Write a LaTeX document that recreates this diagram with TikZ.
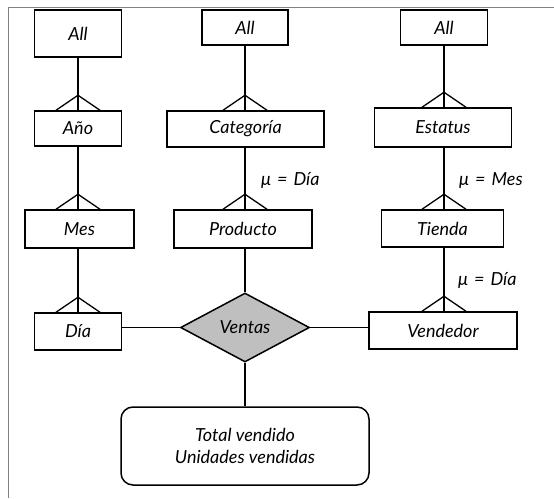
\documentclass[tikz,border=0pt]{standalone}
\usepackage{fontspec}
\setmainfont{Lato}
\usetikzlibrary{shapes.geometric,calc}
\begin{document}
\begin{tikzpicture}[x=1pt,y=-1pt,
  txt/.style={font=\itshape\fontsize{18}{22}\selectfont},
  ent/.style={txt, draw, line width=1.5pt, inner sep=0pt, fill=white},
  conn/.style={line width=1.3pt},
  lbl/.style={txt, anchor=west, inner sep=0pt},
  frame/.style={draw=gray, line width=1pt}]
\useasboundingbox (0,0) rectangle (554,498);
\draw[frame] (8,498) -- (8,7) -- (554,7);

% column 1
\node[ent, minimum width=87pt, minimum height=47pt] (all1) at (78,33.5) {All};
\node[ent, minimum width=87pt, minimum height=35pt] (anio) at (78,128.5) {Año};
\node[ent, minimum width=109pt, minimum height=38pt] (mes) at (79.5,229) {Mes};
\node[ent, minimum width=87pt, minimum height=37pt] (dia) at (78,331.5) {Día};

% column 2
\node[ent, minimum width=86pt, minimum height=35pt] (all2) at (245,27.5) {All};
\node[ent, minimum width=157pt, minimum height=36pt] (cat) at (245.5,129) {Categoría};
\node[ent, minimum width=138pt, minimum height=38pt] (prod) at (243,229) {Producto};
\node[ent, diamond, fill=black!25, minimum width=129pt, minimum height=69pt] (ventas) at (245,327.5) {Ventas};
\node[ent, rounded corners=12pt, align=center, minimum width=248pt, minimum height=78pt] (total) at (245,446) {Total vendido\\Unidades vendidas};

% column 3
\node[ent, minimum width=87pt, minimum height=35pt] (all3) at (444,27.5) {All};
\node[ent, minimum width=137pt, minimum height=39pt] (est) at (443,127.5) {Estatus};
\node[ent, minimum width=122pt, minimum height=37pt] (tienda) at (442.5,228.5) {Tienda};
\node[ent, minimum width=148pt, minimum height=37pt] (vend) at (443,330.5) {Vendedor};

% labels
\node[lbl] (l1) at (261,181) {μ\,\,=\,\,Día};
\node[lbl] (l2) at (459,181) {μ\,\,=\,\,Mes};
\node[lbl] (l3) at (458,281) {μ\,\,=\,\,Día};

% vertical connectors
\draw[conn] (all1.south) -- (anio.north);
\draw[conn] (anio.south) -- (anio.south |- mes.north);
\draw[conn] (anio.south |- mes.south) -- (anio.south |- dia.north);
\draw[conn] (all2.south) -- (all2.south |- cat.north);
\draw[conn] (all2.south |- cat.south) -- (all2.south |- prod.north);
\draw[conn] (all2.south |- prod.south) -- (all2.south |- ventas.north);
\draw[conn] (all2.south |- ventas.south) -- (all2.south |- total.north);
\draw[conn] (all3.south) -- (all3.south |- est.north);
\draw[conn] (all3.south |- est.south) -- (all3.south |- tienda.north);
\draw[conn] (all3.south |- tienda.south) -- (all3.south |- vend.north);

% horizontal connectors
\draw[conn] (ventas.west) -- (ventas.west -| dia.east);
\draw[conn] (ventas.east) -- (ventas.east -| vend.west);

% crow's feet
\foreach \child/\col in {anio/all1, mes/all1, dia/all1, cat/all2, prod/all2, est/all3, tienda/all3, vend/all3}{
  \draw[conn] ($(\child.north -| \col.south)+(-22,0)$) -- ++(22,-15) -- ++(22,15);
}
\end{tikzpicture}
\end{document}
